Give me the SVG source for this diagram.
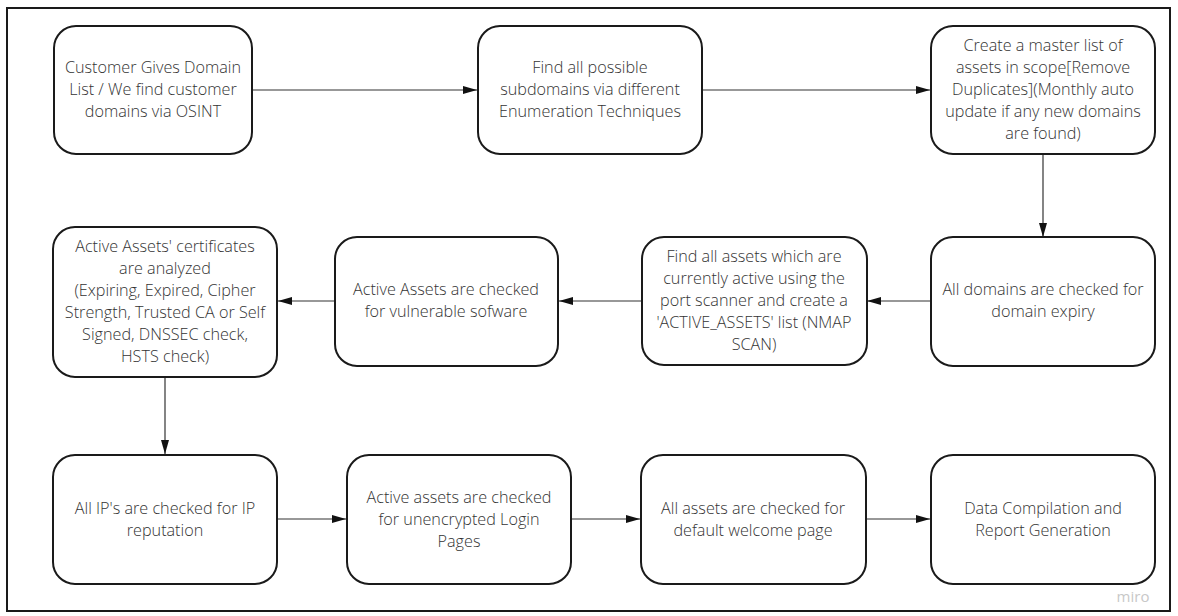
<svg xmlns="http://www.w3.org/2000/svg" width="1178" height="616" viewBox="0 0 1178 616">
<defs>
<marker id="ah" markerWidth="14" markerHeight="8" refX="14" refY="4" orient="auto" markerUnits="userSpaceOnUse">
<path d="M0,0 L14,4 L0,8 Z" fill="#111"/>
</marker>
<style>
.n rect{fill:#fff;stroke:#1a1a1a;stroke-width:2}
.n text{font-family:"Open Sans","Liberation Sans",sans-serif;font-size:16.2px;font-weight:300;fill:#333;text-anchor:middle}
.c line{stroke:#333;stroke-width:1.2;marker-end:url(#ah)}
</style>
</defs>
<rect x="0" y="0" width="1178" height="616" fill="#fff"/>
<rect x="7" y="8" width="1163" height="603" fill="#fff" stroke="#1a1a1a" stroke-width="2"/>
<g id="connectors" class="c">
<line x1="252" y1="90" x2="477" y2="90"/>
<line x1="702" y1="90" x2="930" y2="90"/>
<line x1="1043" y1="154" x2="1043" y2="237"/>
<line x1="931" y1="301" x2="867" y2="301"/>
<line x1="642" y1="301" x2="559" y2="301"/>
<line x1="335" y1="301" x2="278" y2="301"/>
<line x1="165" y1="377" x2="165" y2="454"/>
<line x1="277" y1="519" x2="346" y2="519"/>
<line x1="571" y1="519" x2="640" y2="519"/>
<line x1="866" y1="519" x2="930" y2="519"/>
</g>
<g id="n1" class="n"><rect x="54" y="26" width="198" height="128" rx="22"/>
<text x="153" y="73">Customer Gives Domain</text><text x="153" y="95">List / We find customer</text><text x="153" y="117">domains via OSINT</text></g>
<g id="n2" class="n"><rect x="478" y="26" width="224" height="128" rx="22"/>
<text x="590" y="73">Find all possible</text><text x="590" y="95">subdomains via different</text><text x="590" y="117">Enumeration Techniques</text></g>
<g id="n3" class="n"><rect x="931" y="26" width="224" height="128" rx="22"/>
<text x="1043" y="51">Create a master list of</text><text x="1043" y="73">assets in scope[Remove</text><text x="1043" y="95">Duplicates](Monthly auto</text><text x="1043" y="117">update if any new domains</text><text x="1043" y="139">are found)</text></g>
<g id="n4" class="n"><rect x="53" y="227" width="224" height="150" rx="22"/>
<text x="165" y="252">Active Assets' certificates</text><text x="165" y="274">are analyzed</text><text x="165" y="296">(Expiring, Expired, Cipher</text><text x="165" y="318">Strength, Trusted CA or Self</text><text x="165" y="340">Signed, DNSSEC check,</text><text x="165" y="362">HSTS check)</text></g>
<g id="n5" class="n"><rect x="335" y="237" width="223" height="129" rx="22"/>
<text x="446" y="295">Active Assets are checked</text><text x="446" y="317">for vulnerable sofware</text></g>
<g id="n6" class="n"><rect x="642" y="237" width="225" height="128" rx="22"/>
<text x="754" y="262">Find all assets which are</text><text x="754" y="284">currently active using the</text><text x="754" y="306">port scanner and create a</text><text x="754" y="328">'ACTIVE_ASSETS' list (NMAP</text><text x="754" y="350">SCAN)</text></g>
<g id="n7" class="n"><rect x="931" y="237" width="224" height="129" rx="22"/>
<text x="1043" y="295">All domains are checked for</text><text x="1043" y="317">domain expiry</text></g>
<g id="n8" class="n"><rect x="53" y="455" width="224" height="129" rx="22"/>
<text x="165" y="514">All IP's are checked for IP</text><text x="165" y="536">reputation</text></g>
<g id="n9" class="n"><rect x="347" y="455" width="224" height="129" rx="22"/>
<text x="459" y="503">Active assets are checked</text><text x="459" y="525">for unencrypted Login</text><text x="459" y="547">Pages</text></g>
<g id="n10" class="n"><rect x="641" y="455" width="225" height="129" rx="22"/>
<text x="753" y="514">All assets are checked for</text><text x="753" y="536">default welcome page</text></g>
<g id="n11" class="n"><rect x="931" y="455" width="224" height="129" rx="22"/>
<text x="1043" y="514">Data Compilation and</text><text x="1043" y="536">Report Generation</text></g>
<text x="1133" y="602" font-family="'Open Sans','Liberation Sans',sans-serif" font-size="15" fill="#c8c8c8" text-anchor="middle">miro</text>
</svg>
